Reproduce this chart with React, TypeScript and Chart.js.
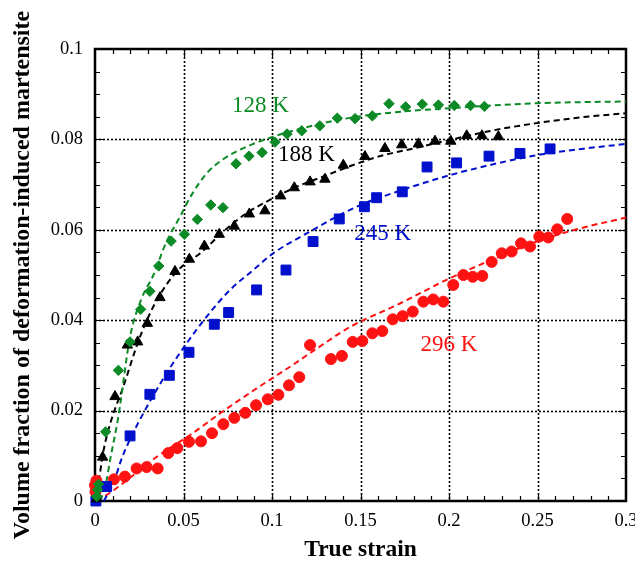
import React, { useEffect, useRef } from 'react';
import { Chart, registerables } from 'chart.js';

Chart.register(...registerables);

// ---------- axis ticks ----------
const xTicks = [0, 0.05, 0.1, 0.15, 0.2, 0.25, 0.3];
const yTicks = [0, 0.02, 0.04, 0.06, 0.08, 0.1];
const xMinorStep = 0.01;
const yMinorStep = 0.005;

// ---------- 128 K (green diamonds) ----------
const strain128 = [0.001, 0.0015, 0.002, 0.006, 0.0132, 0.0198, 0.0258, 0.031, 0.036, 0.043, 0.0505, 0.0578, 0.0654, 0.0723, 0.0797, 0.087, 0.0944, 0.1017, 0.1085, 0.1168, 0.127, 0.1369, 0.1469, 0.1567, 0.1661, 0.1755, 0.1849, 0.194, 0.203, 0.2122, 0.22];
const frac128 = [0.001, 0.0025, 0.0037, 0.0153, 0.0289, 0.0352, 0.0424, 0.0464, 0.052, 0.0575, 0.059, 0.0623, 0.0655, 0.0649, 0.0746, 0.0763, 0.0771, 0.0794, 0.0812, 0.0819, 0.083, 0.0847, 0.0846, 0.0852, 0.0879, 0.0872, 0.0878, 0.0876, 0.0875, 0.0875, 0.0873];
const fitStrain128 = [0.003, 0.006, 0.0085, 0.0132, 0.0198, 0.026, 0.033, 0.04, 0.048, 0.055, 0.0631, 0.072, 0.0819, 0.1007, 0.129, 0.1478, 0.175, 0.2006, 0.2495, 0.3];
const fitFrac128 = [0, 0.0035, 0.009, 0.0187, 0.0363, 0.0445, 0.05, 0.057, 0.0629, 0.068, 0.0725, 0.0755, 0.0777, 0.0806, 0.0836, 0.085, 0.0862, 0.0869, 0.088, 0.0884];

// ---------- 188 K (black triangles) ----------
const strain188 = [0.001, 0.0043, 0.0113, 0.0183, 0.0241, 0.0296, 0.0367, 0.0452, 0.0533, 0.0618, 0.0702, 0.0787, 0.0872, 0.096, 0.1049, 0.1126, 0.1215, 0.1299, 0.1403, 0.1525, 0.1638, 0.1733, 0.1827, 0.1921, 0.201, 0.21, 0.2186, 0.2279];
const frac188 = [0.0005, 0.0097, 0.0231, 0.0345, 0.0352, 0.0393, 0.045, 0.0508, 0.0535, 0.0564, 0.059, 0.0608, 0.0635, 0.0642, 0.0675, 0.0693, 0.0706, 0.0712, 0.0743, 0.0762, 0.078, 0.0788, 0.079, 0.0796, 0.0796, 0.0808, 0.0808, 0.0806];
const fitStrain188 = [0, 0.002, 0.0045, 0.0085, 0.016, 0.0254, 0.035, 0.047, 0.06, 0.0725, 0.085, 0.1007, 0.115, 0.129, 0.1478, 0.1629, 0.18, 0.2006, 0.225, 0.2495, 0.275, 0.3];
const fitFrac188 = [0, 0.004, 0.0105, 0.017, 0.0253, 0.0363, 0.0445, 0.0511, 0.055, 0.0596, 0.0635, 0.067, 0.0697, 0.0718, 0.0746, 0.0765, 0.078, 0.0799, 0.082, 0.0836, 0.0849, 0.0858];

// ---------- 245 K (blue squares) ----------
const strain245 = [0.0005, 0.0066, 0.0198, 0.031, 0.042, 0.0531, 0.0674, 0.0755, 0.0913, 0.1079, 0.1232, 0.138, 0.1522, 0.1591, 0.1736, 0.1876, 0.2043, 0.2226, 0.2401, 0.2571];
const frac245 = [0, 0.0032, 0.0144, 0.0236, 0.0278, 0.0329, 0.0391, 0.0417, 0.0467, 0.0511, 0.0574, 0.0624, 0.0651, 0.0671, 0.0684, 0.0739, 0.0748, 0.0763, 0.0769, 0.0779];
const fitStrain245 = [0.005, 0.011, 0.0147, 0.0196, 0.0273, 0.0405, 0.0518, 0.0631, 0.0763, 0.0894, 0.1007, 0.1196, 0.1478, 0.175, 0.2006, 0.225, 0.2495, 0.275, 0.3];
const fitFrac245 = [0, 0.0046, 0.009, 0.0135, 0.0194, 0.0283, 0.0349, 0.0408, 0.0467, 0.0511, 0.0548, 0.0592, 0.0651, 0.069, 0.0721, 0.0745, 0.0765, 0.0779, 0.079];

// ---------- 296 K (red circles) ----------
const strain296 = [0.0003, 0.0, 0.0008, 0.0107, 0.0169, 0.0235, 0.0292, 0.0354, 0.0414, 0.0465, 0.0531, 0.0599, 0.0661, 0.0725, 0.0787, 0.0849, 0.091, 0.0976, 0.1036, 0.1096, 0.1154, 0.1215, 0.1333, 0.1395, 0.1456, 0.151, 0.1567, 0.1623, 0.1682, 0.1738, 0.1795, 0.1855, 0.1911, 0.1968, 0.2024, 0.2081, 0.2134, 0.2188, 0.2241, 0.2298, 0.2354, 0.2407, 0.2458, 0.251, 0.2561, 0.2612, 0.2668];
const frac296 = [0.002, 0.0035, 0.0045, 0.0048, 0.0054, 0.0072, 0.0075, 0.0072, 0.0106, 0.0117, 0.0131, 0.0132, 0.015, 0.017, 0.0184, 0.0195, 0.0212, 0.0225, 0.0235, 0.0256, 0.0274, 0.0345, 0.0314, 0.0321, 0.0352, 0.0354, 0.0371, 0.0376, 0.0402, 0.0409, 0.0419, 0.0441, 0.0446, 0.0441, 0.0478, 0.05, 0.0496, 0.0498, 0.0529, 0.0548, 0.0552, 0.057, 0.0563, 0.0585, 0.0583, 0.0601, 0.0624];
const fitStrain296 = [0.001, 0.006, 0.0113, 0.02, 0.035, 0.0537, 0.0725, 0.0913, 0.1102, 0.129, 0.1441, 0.1723, 0.2006, 0.225, 0.2495, 0.275, 0.3];
const fitFrac296 = [0, 0.0012, 0.0026, 0.0052, 0.0098, 0.0146, 0.0199, 0.0249, 0.0297, 0.0347, 0.0385, 0.0437, 0.0493, 0.0535, 0.0574, 0.0604, 0.0627];

// ---------- curve labels ----------
const labelTexts = ['128 K', '188 K', '245 K', '296 K'];
const labelX = [0.0935, 0.1195, 0.1625, 0.2];
const labelY = [0.0874, 0.0765, 0.059, 0.0345];

const GREEN = '#0c8a25';
const BLACK = '#000000';
const BLUE = '#0010cc';
const RED = '#ff1212';
const labelColors = [GREEN, BLACK, BLUE, RED];

const pts = (xs: number[], ys: number[]) => xs.map((v, i) => ({ x: v, y: ys[i] }));

const fmt = (v: number) => String(Number(Number(v).toFixed(3)));

const framePlugin = {
  id: 'frame',
  beforeDatasetsDraw(chart: any) {
    const { ctx, chartArea: a, scales } = chart;
    const x = scales.x;
    const y = scales.y;
    ctx.save();
    ctx.strokeStyle = '#000';
    // dotted grid
    ctx.lineWidth = 1.6;
    ctx.setLineDash([2, 2]);
    xTicks.slice(1, -1).forEach((v) => {
      const px = Math.round(x.getPixelForValue(v)) + 0.5;
      ctx.beginPath();
      ctx.moveTo(px, a.top);
      ctx.lineTo(px, a.bottom);
      ctx.stroke();
    });
    yTicks.slice(1, -1).forEach((v) => {
      const py = Math.round(y.getPixelForValue(v)) + 0.5;
      ctx.beginPath();
      ctx.moveTo(a.left, py);
      ctx.lineTo(a.right, py);
      ctx.stroke();
    });
    ctx.setLineDash([]);
    // inward ticks
    ctx.lineWidth = 1.2;
    const nx = Math.round((x.max - x.min) / xMinorStep);
    for (let i = 1; i < nx; i++) {
      const px = Math.round(x.getPixelForValue(x.min + i * xMinorStep)) + 0.5;
      const len = i % 5 === 0 ? 8 : 5;
      ctx.beginPath();
      ctx.moveTo(px, a.bottom);
      ctx.lineTo(px, a.bottom - len);
      ctx.moveTo(px, a.top);
      ctx.lineTo(px, a.top + len);
      ctx.stroke();
    }
    const ny = Math.round((y.max - y.min) / yMinorStep);
    for (let i = 1; i < ny; i++) {
      const py = Math.round(y.getPixelForValue(y.min + i * yMinorStep)) + 0.5;
      const len = i % 4 === 0 ? 8 : 5;
      ctx.beginPath();
      ctx.moveTo(a.left, py);
      ctx.lineTo(a.left + len, py);
      ctx.moveTo(a.right, py);
      ctx.lineTo(a.right - len, py);
      ctx.stroke();
    }
    // frame
    ctx.lineWidth = 2.5;
    ctx.strokeRect(a.left, a.top, a.right - a.left, a.bottom - a.top);
    ctx.restore();
  },
  afterDatasetsDraw(chart: any) {
    const { ctx, scales } = chart;
    ctx.save();
    ctx.font = '23px "Liberation Serif", "Times New Roman", serif';
    ctx.textAlign = 'center';
    ctx.textBaseline = 'middle';
    labelTexts.forEach((t, i) => {
      ctx.fillStyle = labelColors[i];
      ctx.fillText(t, scales.x.getPixelForValue(labelX[i]), scales.y.getPixelForValue(labelY[i]));
    });
    ctx.restore();
  },
};

const fitLine = (xs: number[], ys: number[], color: string) => ({
  type: 'line' as const,
  data: pts(xs, ys),
  borderColor: color,
  borderWidth: 2,
  borderDash: [6, 4],
  pointRadius: 0,
  fill: false,
  tension: 0.4,
  cubicInterpolationMode: 'monotone' as const,
  order: 10,
});

const markers = (xs: number[], ys: number[], color: string, style: string, r: number, order: number) => ({
  type: 'scatter' as const,
  data: pts(xs, ys),
  backgroundColor: color,
  borderColor: color,
  borderWidth: 1,
  pointStyle: style,
  pointRadius: r,
  clip: false,
  order,
});

export default function App() {
  const ref = useRef<HTMLCanvasElement | null>(null);

  useEffect(() => {
    document.body.style.margin = '0';
    const canvas = ref.current;
    if (!canvas) return;
    const serif = '"Liberation Serif", "Times New Roman", serif';
    const chart = new Chart(canvas, {
      type: 'scatter',
      data: {
        datasets: [
          fitLine(fitStrain128, fitFrac128, GREEN),
          fitLine(fitStrain188, fitFrac188, BLACK),
          fitLine(fitStrain245, fitFrac245, BLUE),
          fitLine(fitStrain296, fitFrac296, RED),
          markers(strain296, frac296, RED, 'circle', 5.5, 4),
          markers(strain245, frac245, BLUE, 'rect', 7, 3),
          markers(strain188, frac188, BLACK, 'triangle', 6, 2),
          markers(strain128, frac128, GREEN, 'rectRot', 5.2, 1),
        ] as any,
      },
      options: {
        animation: false,
        responsive: false,
        devicePixelRatio: 1,
        layout: { padding: { left: 0, right: 9, top: 49, bottom: 0 } },
        plugins: { legend: { display: false }, tooltip: { enabled: false } },
        scales: {
          x: {
            type: 'linear',
            min: 0,
            max: 0.3,
            grid: { display: false, drawTicks: false, tickLength: 0 },
            border: { display: false },
            afterBuildTicks: (s: any) => {
              s.ticks = xTicks.map((v) => ({ value: v }));
            },
            afterFit: (s: any) => {
              s.height = 64;
              s.paddingLeft = 0;
              s.paddingRight = 0;
            },
            ticks: {
              color: '#000',
              font: { family: serif, size: 18.5 },
              padding: 9,
              maxRotation: 0,
              autoSkip: false,
              callback: (v: any) => fmt(v),
            },
            title: {
              display: true,
              text: 'True strain',
              color: '#000',
              font: { family: serif, size: 23.5, weight: 'bold' },
              padding: { top: 0, bottom: 1 },
            },
          },
          y: {
            type: 'linear',
            min: 0,
            max: 0.1,
            grid: { display: false, drawTicks: false, tickLength: 0 },
            border: { display: false },
            afterBuildTicks: (s: any) => {
              s.ticks = yTicks.map((v) => ({ value: v }));
            },
            afterFit: (s: any) => {
              s.width = 95;
              s.paddingTop = 0;
              s.paddingBottom = 0;
            },
            ticks: {
              color: '#000',
              font: { family: serif, size: 18.5 },
              padding: 12,
              autoSkip: false,
              callback: (v: any) => fmt(v),
            },
            title: {
              display: true,
              text: 'Volume fraction of deformation-induced martensite',
              color: '#000',
              font: { family: serif, size: 24, weight: 'bold' },
              padding: { top: 8, bottom: 0 },
            },
          },
        },
      } as any,
      plugins: [framePlugin],
    });
    return () => chart.destroy();
  }, []);

  return (
    <div style={{ width: 635, height: 565 }}>
      <canvas ref={ref} width={635} height={565} />
    </div>
  );
}
